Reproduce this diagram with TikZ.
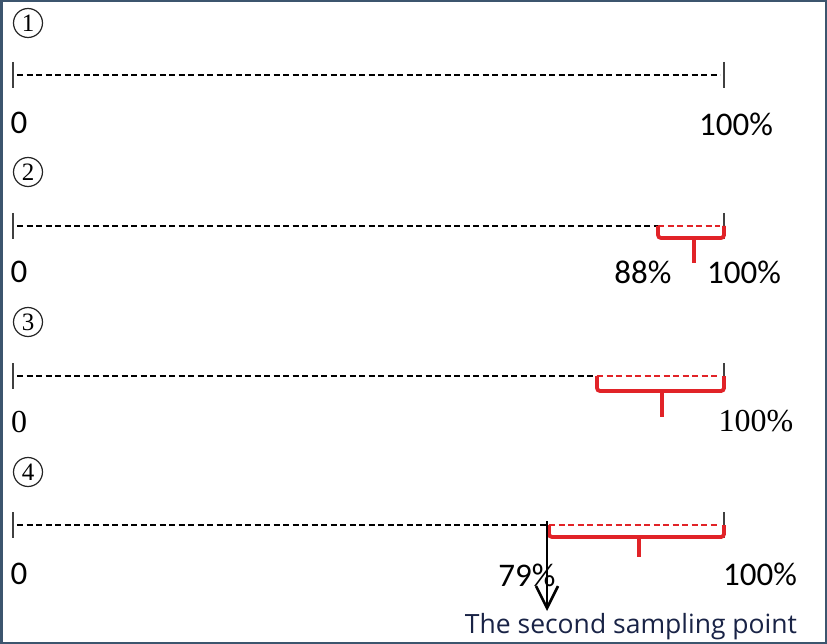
\documentclass[tikz,border=0pt]{standalone}
\usepackage{fontspec}
\setmainfont{Liberation Serif}
\newfontfamily\calib{Carlito}
\newfontfamily\segoe{Open Sans}
\usetikzlibrary{arrows.meta}
\definecolor{myred}{RGB}{225,35,40}
\definecolor{frame}{RGB}{60,85,110}
\definecolor{navy}{RGB}{25,35,70}
\tikzset{
  bar/.style={draw=black!75, line width=1.6pt},
  dashline/.style={draw=black, line width=2pt, dash pattern=on 6pt off 3.5pt},
  reddash/.style={draw=myred, line width=2pt, dash pattern=on 6pt off 3.5pt},
  bracebox/.style={draw=myred, line width=3.8pt, rounded corners=3pt},
  circnum/.style={circle, draw=black!85, line width=1.2pt, minimum size=29pt, inner sep=0pt, font=\fontsize{25}{27}\selectfont},
  sanslab/.style={font=\calib\fontsize{33}{38}\selectfont, inner sep=0pt},
  seriflab/.style={font=\fontsize{32}{38}\selectfont, inner sep=0pt},
}
\begin{document}
\begin{tikzpicture}[x=1pt,y=-1pt]
\useasboundingbox (0,0) rectangle (827,644);
\fill[white] (0,0) rectangle (827,644);
\draw[frame, line width=2.5pt] (1.25,1.25) rectangle (825.75,642.75);

% ---------- row 1
\node[circnum] (c1) at (28,23) {1};
\coordinate (s1) at (13,75);
\coordinate (e1) at (724,75);
\draw[bar] ([yshift=13pt]s1) -- ([yshift=-13pt]s1);
\draw[bar] ([yshift=13pt]e1) -- ([yshift=-13pt]e1);
\draw[dashline] ([xshift=4pt]s1) -- ([xshift=-4pt]e1);
\node[sanslab] (z1) at (19,123) {0};
\node[sanslab] (h1) at (736,124) {100\%};

% ---------- row 2
\node[circnum] (c2) at (28,172) {2};
\coordinate (s2) at (13,226);
\coordinate (e2) at (724,226);
\coordinate (m2) at (658,226);
\draw[bar] ([yshift=13pt]s2) -- ([yshift=-13pt]s2);
\draw[bar] ([yshift=13pt]e2) -- ([yshift=-13pt]e2);
\draw[dashline] ([xshift=4pt]s2) -- (m2);
\draw[reddash] (m2) -- ([xshift=-4pt]e2);
\draw[bracebox] (m2) -- ([yshift=-12pt]m2) -| (e2);
\coordinate (t2) at (694,238);
\coordinate (u2) at (694,263);
\draw[myred, line width=3.8pt] (t2) -- (u2);
\node[sanslab] (z2) at (19,272) {0};
\node[sanslab] (p2) at (643,272) {88\%};
\node[sanslab] (h2) at (744,272) {100\%};

% ---------- row 3
\node[circnum] (c3) at (28,322) {3};
\coordinate (s3) at (13,376);
\coordinate (e3) at (724,376);
\coordinate (m3) at (597,376);
\draw[bar] ([yshift=13pt]s3) -- ([yshift=-13pt]s3);
\draw[bar] ([yshift=13pt]e3) -- ([yshift=-13pt]e3);
\draw[dashline] ([xshift=4pt]s3) -- (m3);
\draw[reddash] (m3) -- ([xshift=-4pt]e3);
\draw[bracebox] (m3) -- ([yshift=-15pt]m3) -| (e3);
\coordinate (t3) at (662,391);
\coordinate (u3) at (662,417);
\draw[myred, line width=3.8pt] (t3) -- (u3);
\node[seriflab] (z3) at (19,422) {0};
\node[seriflab] (h3) at (756,421) {100\%};

% ---------- row 4
\node[circnum] (c4) at (28,472) {4};
\coordinate (s4) at (13,525);
\coordinate (e4) at (724,525);
\coordinate (m4) at (549,525);
\draw[bar] ([yshift=13pt]s4) -- ([yshift=-13pt]s4);
\draw[bar] ([yshift=13pt]e4) -- ([yshift=-13pt]e4);
\draw[dashline] ([xshift=4pt]s4) -- (m4);
\draw[reddash] (m4) -- ([xshift=-4pt]e4);
\draw[bracebox] (m4) -- ([yshift=-12pt]m4) -| (e4);
\coordinate (t4) at (639,537);
\coordinate (u4) at (639,557);
\draw[myred, line width=3.8pt] (t4) -- (u4);
\node[sanslab] (z4) at (19,574) {0};
\node[sanslab] (p4) at (527,575) {79\%};
\node[sanslab] (h4) at (760,574) {100\%};
\node[font=\segoe\fontsize{26.5}{30}\selectfont, text=navy, inner sep=0pt, anchor=base] (lab) at (631,633) {The second sampling point};
\coordinate (a4) at (547,521);
\coordinate (b4) at (547,611);
\draw[black, line width=2.6pt, -{Straight Barb[length=22pt,width=22pt]}] (a4) -- (b4);
\end{tikzpicture}
\end{document}
